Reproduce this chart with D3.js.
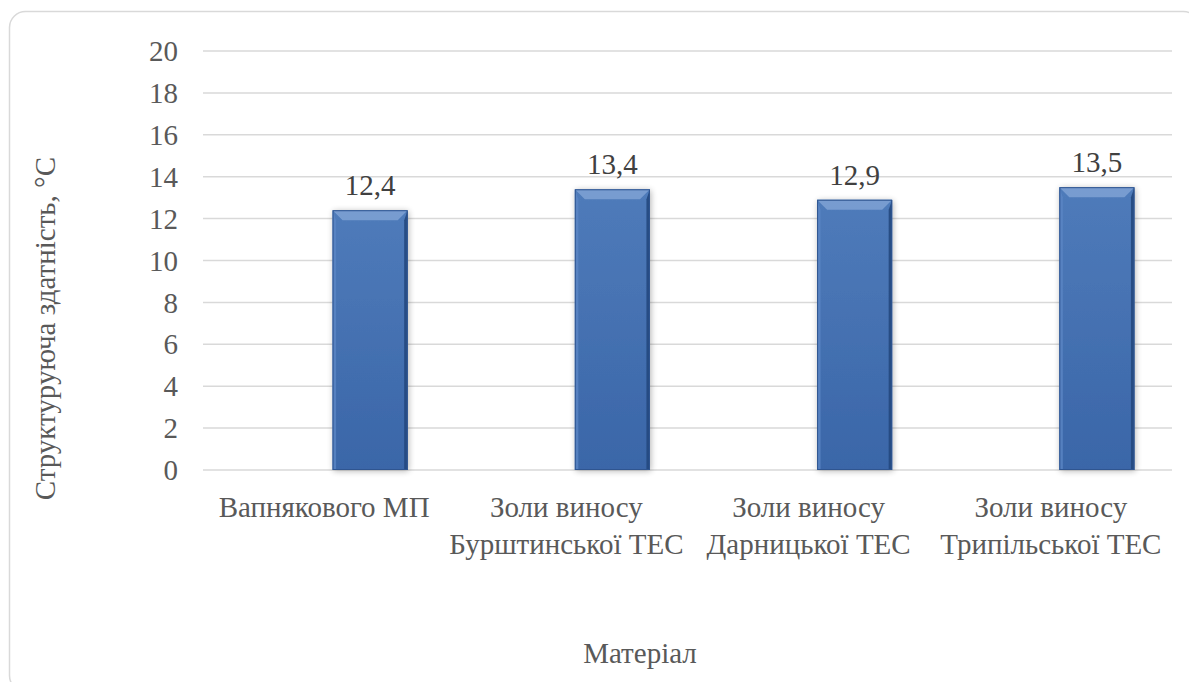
<!DOCTYPE html>
<html><head><meta charset="utf-8">
<script src="https://cdn.jsdelivr.net/npm/d3@7"></script>
</head><body style="margin:0">
<script>
const categories = [["Вапнякового МП"], ["Золи виносу", "Бурштинської ТЕС"], ["Золи виносу", "Дарницької ТЕС"], ["Золи виносу", "Трипільської ТЕС"]];
const values = [12.4, 13.4, 12.9, 13.5];
const valueLabels = ["12,4", "13,4", "12,9", "13,5"];
const yTicks = [0, 2, 4, 6, 8, 10, 12, 14, 16, 18, 20];
const yTitle = "Структуруюча здатність, °С";
const xTitle = "Матеріал";

const W = 1189, H = 682;
const m = {left: 203, right: 1172, top: 51, bottom: 470};
const fs = 29;
const FONT = '"Liberation Serif", "Times New Roman", Times';
const txt = "#595959";

const svg = d3.select("body").append("svg").attr("width", W).attr("height", H)
  .style("display", "block").style("font-family", FONT, "important");
const defs = svg.append("defs");
const g1 = defs.append("linearGradient").attr("id", "barFill").attr("x1", 0).attr("y1", 0).attr("x2", 0).attr("y2", 1);
g1.append("stop").attr("offset", "0%").attr("stop-color", "#4f7bba");
g1.append("stop").attr("offset", "100%").attr("stop-color", "#3a66a8");
const f = defs.append("filter").attr("id", "shadow").attr("x", "-20%").attr("y", "-10%").attr("width", "140%").attr("height", "120%");
f.append("feGaussianBlur").attr("in", "SourceAlpha").attr("stdDeviation", 3).attr("result", "b");
f.append("feOffset").attr("in", "b").attr("dx", 1).attr("dy", 1).attr("result", "o");
f.append("feComponentTransfer").attr("in", "o").attr("result", "s").append("feFuncA").attr("type", "linear").attr("slope", 0.3);
const fm = f.append("feMerge"); fm.append("feMergeNode").attr("in", "s"); fm.append("feMergeNode").attr("in", "SourceGraphic");

function T(sel) { return sel.style("font-family", FONT, "important").attr("font-size", fs); }

// frame
svg.append("rect").attr("x", 9.5).attr("y", 11.5).attr("width", 1190).attr("height", 680)
  .attr("rx", 16).attr("fill", "#fff").attr("stroke", "#d9d9d9").attr("stroke-width", 1.5);

const x = d3.scaleBand().domain(d3.range(categories.length)).range([m.left, m.right]);
const y = d3.scaleLinear().domain([0, 20]).range([m.bottom, m.top]);

// grid
svg.append("g").selectAll("line").data(yTicks).join("line")
  .attr("x1", m.left).attr("x2", m.right).attr("y1", d => y(d)).attr("y2", d => y(d))
  .attr("stroke", "#d9d9d9").attr("stroke-width", 1.5);

// y tick labels
T(svg.append("g").selectAll("text").data(yTicks).join("text")
  .attr("x", 178).attr("y", d => y(d)).attr("dy", "0.35em").attr("text-anchor", "end"))
  .attr("fill", txt).text(d => d);

// bars
const bw = x.bandwidth() * 0.31;
const off = x.bandwidth() * 0.5 + 46 - bw / 2;
const bev = 10;
const bars = svg.append("g").selectAll("g").data(values).join("g")
  .attr("transform", (d, i) => `translate(${x(i) + off},0)`);
bars.append("rect").attr("x", 0).attr("y", d => y(d)).attr("width", bw).attr("height", d => y(0) - y(d))
  .attr("fill", "url(#barFill)").attr("filter", "url(#shadow)");
bars.append("path").attr("d", d => { const t = y(d); return `M0,${t} L${bw},${t} L${bw - bev},${t + bev} L${bev},${t + bev} Z`; })
  .attr("fill", "#7fa2d3").attr("opacity", 0.85);
bars.append("path").attr("d", d => { const t = y(d), b = y(0); return `M0,${t} L${bev * 0.35},${t + bev} L${bev * 0.35},${b} L0,${b} Z`; })
  .attr("fill", "#5b86c4").attr("opacity", 0.8);
bars.append("path").attr("d", d => { const t = y(d), b = y(0); return `M${bw},${t} L${bw - bev * 0.35},${t + bev} L${bw - bev * 0.35},${b} L${bw},${b} Z`; })
  .attr("fill", "#23487e").attr("opacity", 0.9);
bars.append("rect").attr("x", 0.5).attr("y", d => y(d) + 0.5).attr("width", bw - 1).attr("height", d => y(0) - y(d) - 1)
  .attr("fill", "none").attr("stroke", "#2f5590").attr("stroke-width", 1);

// value labels
T(bars.append("text").attr("x", bw / 2).attr("y", d => y(d) - 15).attr("text-anchor", "middle"))
  .attr("fill", "#404040").text((d, i) => valueLabels[i]);

// x labels
T(svg.append("g").selectAll("text").data(categories).join("text")
  .attr("x", (d, i) => x(i) + x.bandwidth() / 2).attr("y", 517).attr("text-anchor", "middle"))
  .attr("fill", txt)
  .each(function (d) {
    d3.select(this).selectAll("tspan").data(d).join("tspan")
      .attr("x", d3.select(this).attr("x")).attr("dy", (t, j) => j ? 37 : 0).text(t => t);
  });

// axis titles
T(svg.append("text").attr("x", 640).attr("y", 663).attr("text-anchor", "middle"))
  .attr("fill", txt).text(xTitle);
T(svg.append("text").attr("transform", "translate(55,157) rotate(-90)").attr("text-anchor", "end"))
  .attr("fill", txt).text(yTitle);
</script>
</body></html>
